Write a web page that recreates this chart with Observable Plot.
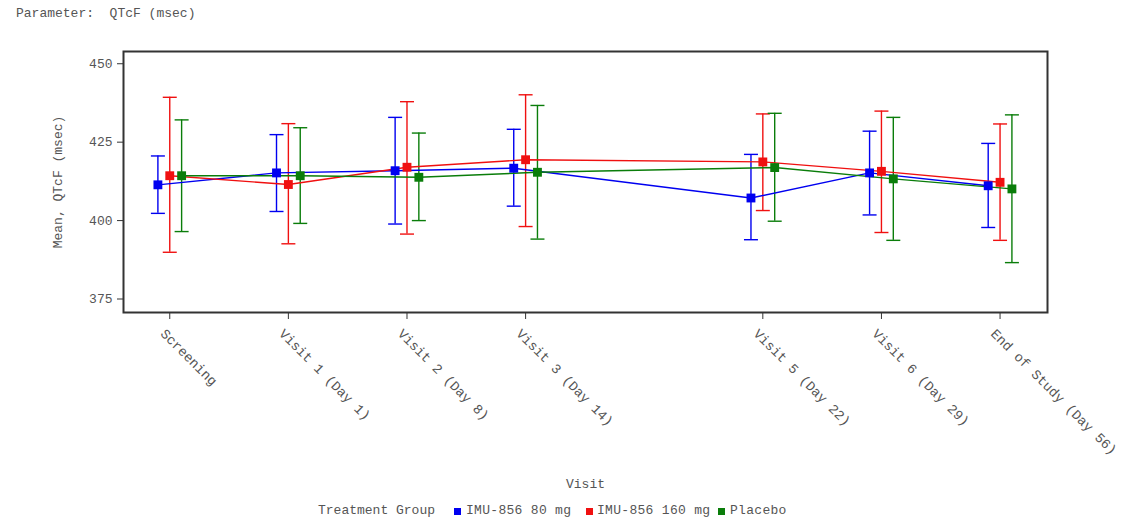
<!DOCTYPE html>
<html><head><meta charset="utf-8">
<script src="https://cdn.jsdelivr.net/npm/d3@7"></script>
<script src="https://cdn.jsdelivr.net/npm/@observablehq/plot@0.6"></script>
<style>
body{margin:0;background:#fff;font-family:"Liberation Mono",monospace;color:#555;}
#title{height:28px;line-height:28px;padding-left:16px;font-size:13px;white-space:pre;}
#chart{height:470px;}
#legend{position:relative;height:26px;font-size:13px;white-space:pre;}
#legend span{position:absolute;top:0;line-height:26px;}
#legend span.g{letter-spacing:0.3px;}
#legend i{position:absolute;top:10px;width:7px;height:7px;}
</style></head><body>
<div id="title">Parameter:  QTcF (msec)</div>
<div id="chart"></div>
<div id="legend"></div>
<script>
// ---- data ----
const visits = ["Screening","Visit 1 (Day 1)","Visit 2 (Day 8)","Visit 3 (Day 14)","Visit 5 (Day 22)","Visit 6 (Day 29)","End of Study (Day 56)"];
const visitNum = [0,1,2,3,5,6,7];
const groups = ["IMU-856 80 mg","IMU-856 160 mg","Placebo"];
const colors = ["#0000f0","#f01010","#0a7d0a"];
const yTicks = [375,400,425,450];

const mean80  = [411.4, 415.2, 415.9, 416.7, 407.2, 415.2, 411.1];
const lo80    = [402.3, 402.9, 398.9, 404.6, 393.9, 401.8, 397.8];
const hi80    = [420.6, 427.4, 432.9, 429.1, 421.1, 428.5, 424.6];

const mean160 = [414.3, 411.5, 417.0, 419.4, 418.7, 415.7, 412.2];
const lo160   = [389.9, 392.6, 395.7, 398.1, 403.2, 396.2, 393.7];
const hi160   = [439.3, 430.9, 437.9, 440.1, 434.0, 434.9, 430.8];

const meanPbo = [414.3, 414.3, 413.8, 415.4, 416.9, 413.3, 410.1];
const loPbo   = [396.5, 399.1, 400.0, 394.1, 399.8, 393.7, 386.6];
const hiPbo   = [432.1, 429.6, 427.9, 436.7, 434.2, 432.9, 433.7];

// ---- build table ----
const means = [mean80, mean160, meanPbo];
const lows = [lo80, lo160, loPbo];
const highs = [hi80, hi160, hiPbo];
const dodge = [-0.1, 0, 0.1];
const rows = [];
groups.forEach((g, gi) => visitNum.forEach((v, i) => rows.push({
  group: g, visit: v, pos: v + dodge[gi], mean: means[gi][i], lo: lows[gi][i], hi: highs[gi][i]
})));

const cap = {draw(ctx, size){ const r = Math.sqrt(size/Math.PI); ctx.moveTo(-r,0); ctx.lineTo(r,0); }};

const chart = Plot.plot({
  width: 1125, height: 470,
  marginTop: 23, marginRight: 78, marginBottom: 186, marginLeft: 123,
  style: {fontFamily: "'Liberation Mono', monospace", fontSize: "13px", color: "#555", background: "#fff"},
  x: {domain: [-0.39, 7.40]},
  y: {domain: [370.7, 453.9]},
  color: {domain: groups, range: colors},
  marks: [
    Plot.axisY({ticks: yTicks, tickSize: 6, tickPadding: 5, label: null, stroke: "#333"}),
    Plot.text(["Mean, QTcF (msec)"], {text: d => d, frameAnchor: "left", rotate: -90, dx: -66, textAnchor: "middle", lineAnchor: "middle", fill: "#555"}),
    Plot.axisX({ticks: visitNum, tickSize: 7, tickFormat: () => "", label: null, stroke: "#333"}),
    Plot.text(visitNum, {x: d => d, text: (d, i) => visits[i], frameAnchor: "bottom", rotate: 45, textAnchor: "start", lineAnchor: "bottom", dx: -10, dy: 22, fontSize: 13.6, fill: "#555"}),
    Plot.text(["Visit"], {text: d => d, frameAnchor: "bottom", dy: 171, lineAnchor: "middle", fill: "#555"}),
    Plot.ruleX(rows, {x: "pos", y1: "lo", y2: "hi", stroke: "group", strokeWidth: 1.4}),
    Plot.dot(rows, {x: "pos", y: "lo", symbol: cap, r: 7, stroke: "group", strokeWidth: 1.4}),
    Plot.dot(rows, {x: "pos", y: "hi", symbol: cap, r: 7, stroke: "group", strokeWidth: 1.4}),
    Plot.line(rows, {x: "pos", y: "mean", z: "group", stroke: "group", strokeWidth: 1.4}),
    Plot.dot(rows, {x: "pos", y: "mean", symbol: "square", r: 5, fill: "group", stroke: "none"}),
    Plot.frame({stroke: "#333", strokeWidth: 2})
  ]
});
document.getElementById("chart").appendChild(chart);

// ---- legend ----
const legend = document.getElementById("legend");
const title = document.createElement("span");
title.textContent = "Treatment Group";
title.style.left = "318px";
legend.appendChild(title);
const swatchX = [454, 586, 718];
const labelX = [466, 597, 730];
groups.forEach((g, i) => {
  const sw = document.createElement("i");
  sw.style.left = swatchX[i] + "px";
  sw.style.background = colors[i];
  legend.appendChild(sw);
  const s = document.createElement("span");
  s.className = "g";
  s.textContent = g;
  s.style.left = labelX[i] + "px";
  legend.appendChild(s);
});
</script>
</body></html>
